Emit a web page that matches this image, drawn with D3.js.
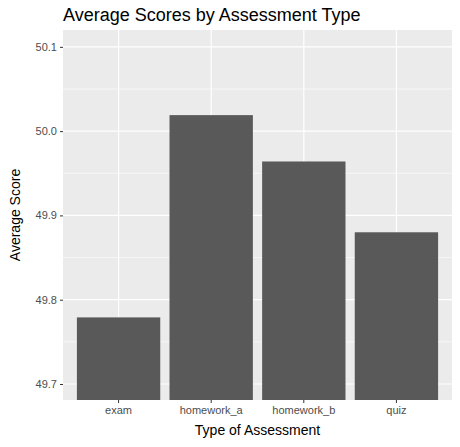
<!DOCTYPE html>
<html><head><meta charset="utf-8">
<script src="https://cdn.jsdelivr.net/npm/d3@7"></script>
<style>body{margin:0;background:#fff}</style>
</head><body>
<script>
const W = 460, H = 447;
const M = {left: 63, right: 8, top: 30, bottom: 47};

const categories = ["exam", "homework_a", "homework_b", "quiz"];
const scores = [49.779, 50.019, 49.964, 49.880];
const yTicks = [49.7, 49.8, 49.9, 50.0, 50.1];

const svg = d3.select("body").append("svg").attr("width", W).attr("height", H)
  .style("font-family", "Liberation Sans, Arial, sans-serif");

const x = d3.scaleBand().domain(categories).range([M.left, W - M.right]).paddingInner(0.1).paddingOuter(0.15);
const y = d3.scaleLinear().domain([49.681, 50.12]).range([H - M.bottom, M.top]);

svg.append("defs").append("clipPath").attr("id", "panel")
  .append("rect").attr("x", M.left).attr("y", M.top)
  .attr("width", W - M.left - M.right).attr("height", H - M.top - M.bottom);

// Panel background
svg.append("rect")
  .attr("x", M.left).attr("y", M.top)
  .attr("width", W - M.left - M.right).attr("height", H - M.top - M.bottom)
  .attr("fill", "#ebebeb");

// Minor gridlines
const minor = d3.range(yTicks.length - 1).map(i => (yTicks[i] + yTicks[i + 1]) / 2);
svg.append("g").selectAll("line").data(minor).join("line")
  .attr("x1", M.left).attr("x2", W - M.right)
  .attr("y1", d => y(d)).attr("y2", d => y(d))
  .attr("stroke", "#fff").attr("stroke-width", 0.6);

// Major gridlines
svg.append("g").selectAll("line").data(yTicks).join("line")
  .attr("x1", M.left).attr("x2", W - M.right)
  .attr("y1", d => y(d)).attr("y2", d => y(d))
  .attr("stroke", "#fff").attr("stroke-width", 1.2);
svg.append("g").selectAll("line").data(categories).join("line")
  .attr("x1", d => x(d) + x.bandwidth() / 2).attr("x2", d => x(d) + x.bandwidth() / 2)
  .attr("y1", M.top).attr("y2", H - M.bottom)
  .attr("stroke", "#fff").attr("stroke-width", 1.2);

// Bars
svg.append("g").attr("clip-path", "url(#panel)").selectAll("rect").data(categories).join("rect")
  .attr("x", d => x(d)).attr("width", x.bandwidth())
  .attr("y", (d, i) => y(scores[i]))
  .attr("height", (d, i) => H - M.bottom - y(scores[i]) + 5)
  .attr("fill", "#595959");

// Y axis
const ya = svg.append("g").attr("transform", `translate(${M.left},0)`)
  .call(d3.axisLeft(y).tickValues(yTicks).tickFormat(d3.format(".1f")).tickSize(3).tickPadding(3));
ya.select(".domain").remove();
ya.selectAll("line").attr("stroke", "#333");
ya.selectAll("text").attr("fill", "#4d4d4d").attr("font-size", 11).attr("font-family", "Liberation Sans, Arial, sans-serif");

// X axis
const xa = svg.append("g").attr("transform", `translate(0,${H - M.bottom})`)
  .call(d3.axisBottom(x).tickSize(3).tickPadding(3));
xa.select(".domain").remove();
xa.selectAll("line").attr("stroke", "#333");
xa.selectAll("text").attr("fill", "#4d4d4d").attr("font-size", 11).attr("font-family", "Liberation Sans, Arial, sans-serif");

// Labels
svg.append("text").attr("x", (M.left + W - M.right) / 2).attr("y", H - 12)
  .attr("text-anchor", "middle").attr("font-size", 14).text("Type of Assessment");
svg.append("text").attr("transform", `translate(20,${(M.top + H - M.bottom) / 2}) rotate(-90)`)
  .attr("text-anchor", "middle").attr("font-size", 14).text("Average Score");
svg.append("text").attr("x", M.left).attr("y", 21)
  .attr("font-size", 18).text("Average Scores by Assessment Type");
</script>
</body></html>
